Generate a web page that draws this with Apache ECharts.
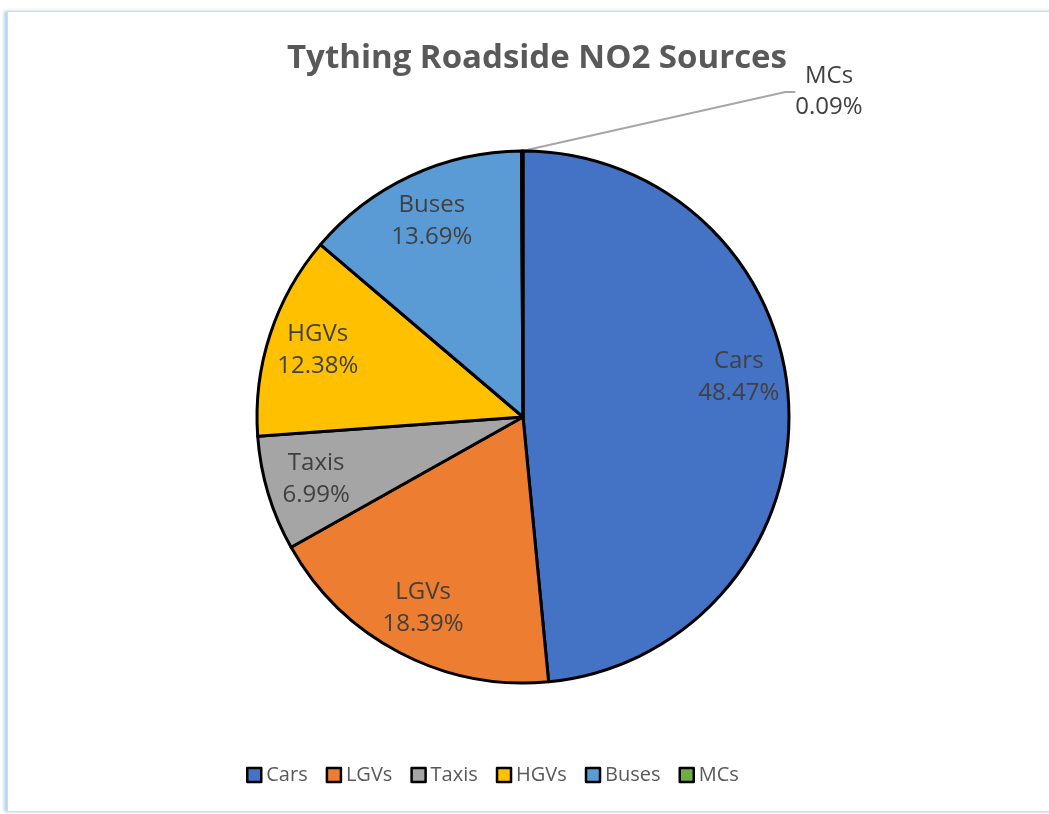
<!DOCTYPE html>
<html>
<head>
<meta charset="utf-8">
<script src="https://cdn.jsdelivr.net/npm/echarts@6/dist/echarts.min.js"></script>
<style>
  html, body { margin: 0; padding: 0; background: #ffffff; overflow: hidden; }
  #frame { position: absolute; left: 7px; top: 11px; width: 1100px; height: 799px;
           border: 1px solid #d9d9d9; box-shadow: -3px 0 3px rgba(91,155,213,0.45); background:#fff; }
  #chart { position: absolute; left: 0; top: 0; width: 1049px; height: 814px; }
</style>
</head>
<body>
<div id="frame"></div>
<div id="chart"></div>
<script>
const titleText = 'Tything Roadside NO2 Sources';
const categories = ['Cars', 'LGVs', 'Taxis', 'HGVs', 'Buses', 'MCs'];
const shares = [48.47, 18.39, 6.99, 12.38, 13.69, 0.09];
const colors = ['#4472C4', '#ED7D31', '#A5A5A5', '#FFC000', '#5B9BD5', '#70AD47'];

const center = [523, 417];
const R = 266;
const FONT = '"Open Sans", "Noto Sans", sans-serif';

const mainData = categories.map((c, i) => ({
  name: c,
  value: shares[i],
  itemStyle: { color: colors[i] },
  label: { show: c === 'MCs' }
}));
const labelData = categories.map((c, i) => ({
  name: c,
  value: shares[i],
  label: { show: c !== 'MCs' }
}));

const chart = echarts.init(document.getElementById('chart'), null, { renderer: 'canvas' });
chart.setOption({
  backgroundColor: 'transparent',
  animation: false,
  title: {
    text: titleText,
    left: 532,
    textAlign: 'center',
    top: 37,
    textStyle: { fontFamily: FONT, fontWeight: 'bold', fontSize: 33, color: '#595959' }
  },
  legend: {
    data: categories,
    left: 241,
    top: 760,
    itemWidth: 14,
    itemHeight: 14,
    itemGap: 18,
    icon: 'rect',
    itemStyle: { borderColor: '#000', borderWidth: 2.5 },
    textStyle: { fontFamily: FONT, fontSize: 20, color: '#595959' },
    selectedMode: false
  },
  series: [
    {
      type: 'pie',
      center: center,
      radius: [0, R],
      startAngle: 90,
      clockwise: true,
      avoidLabelOverlap: false,
      silent: true,
      itemStyle: { borderColor: '#000', borderWidth: 3 },
      label: {
        position: 'outside',
        formatter: p => p.name + '\n' + p.value.toFixed(2) + '%',
        fontFamily: FONT, fontSize: 24, lineHeight: 31, color: '#404040', align: 'center'
      },
      labelLine: { show: true, length: 10, length2: 10, lineStyle: { color: '#A6A6A6', width: 2 } },
      labelLayout: p => (p.dataIndex === 5 ? { x: 829, y: 92, align: 'center', verticalAlign: 'middle' } : {}),
      data: mainData
    },
    {
      type: 'pie',
      center: center,
      radius: [160, R],
      startAngle: 90,
      clockwise: true,
      silent: true,
      avoidLabelOverlap: false,
      itemStyle: { color: 'rgba(0,0,0,0)', borderWidth: 0 },
      label: {
        position: 'inside',
        formatter: p => p.name + '\n' + p.value.toFixed(2) + '%',
        fontFamily: FONT, fontSize: 24, lineHeight: 32, color: '#404040'
      },
      labelLine: { show: false },
      labelLayout: p => (p.dataIndex === 0 ? { dy: -29 } : {}),
      data: labelData
    }
  ]
});
</script>
</body>
</html>
